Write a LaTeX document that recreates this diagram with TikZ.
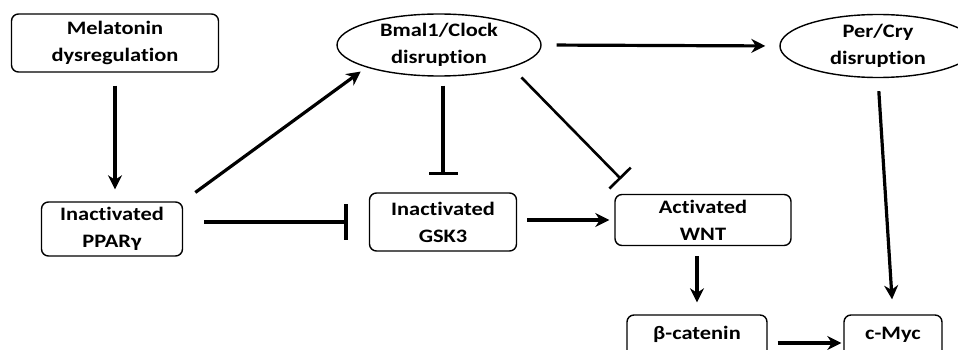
\documentclass[tikz,border=0pt]{standalone}
\usepackage{fontspec}
\setmainfont[FakeStretch=1.18, RawFeature=-liga]{Carlito}
\usetikzlibrary{shapes.geometric, arrows.meta}

\begin{document}
\begin{tikzpicture}%
                    [x=1pt, y=-1pt,
                    box/.style={draw, rounded corners=7pt, line width=1.4pt, align=center, inner sep=0pt,
                                font=\bfseries\fontsize{19}{27}\selectfont},
                    oval/.style={draw, ellipse, line width=1.4pt, align=center, inner sep=0pt,
                                font=\bfseries\fontsize{19}{27}\selectfont},
                    act/.style={line width=3.2pt, -{Stealth[length=14pt, width=14pt, inset=4.5pt]}},
                    inh/.style={line width=3.4pt, -{Bar[width=#1]}}]
                %% Frame of the picture
                \clip (0,0) rectangle (958,350);
                \useasboundingbox (0,0) rectangle (958,350);
                %%
                %% Drawing the boxes
                %%
                \node[box, minimum width=207pt, minimum height=58pt] (melatonin) at (115,43) {Melatonin\\dysregulation};
                \node[box, minimum width=141pt, minimum height=54pt] (ppar) at (112,229) {Inactivated\\PPARγ};
                \node[box, minimum width=147pt, minimum height=58pt] (gsk) at (443,222) {Inactivated\\GSK3};
                \node[box, minimum width=176pt, minimum height=51pt] (wnt) at (703,220) {Activated\\WNT};
                \node[box, minimum width=140pt, minimum height=56pt, text height=14pt, text depth=21pt] (catenin) at (697,343) {β-catenin};
                \node[box, minimum width=98pt, minimum height=56pt, text height=14pt, text depth=21pt] (myc) at (893,343) {c-Myc};
                \node[oval, minimum width=204pt, minimum height=62pt] (bmal) at (439,45) {Bmal1/Clock\\disruption};
                \node[oval, minimum width=196pt, minimum height=63pt] (percry) at (878,46) {Per/Cry\\disruption};
                \coordinate (wntbar) at (621,179);
                %%
                %% Activating arrows
                %%
                \draw[act, shorten <=13pt, shorten >=12pt] (melatonin.south) -- (melatonin.south |- ppar.north);
                \draw[act, shorten <=15pt, shorten >=7pt] (ppar.north east) -- (bmal.south west);
                \draw[act, shorten <=15pt, shorten >=14pt] (bmal.east) -- (percry.west);
                \draw[act, shorten <=10pt, shorten >=5pt] (gsk.east |- wnt.west) -- (wnt.west);
                \draw[act, shorten <=10pt, shorten >=12pt] (wnt.south -| catenin.north) -- (catenin.north);
                \draw[act, shorten <=10pt, shorten >=2pt] (catenin.east |- myc.west) -- (myc.west);
                \draw[act, shorten <=13pt, shorten >=15pt] (percry.south) -- (myc.north);
                %%
                %% Inhibiting lines
                %%
                \draw[inh=36pt, shorten <=21pt, shorten >=21pt] (ppar.east |- gsk.west) -- (gsk.west);
                \draw[inh=29pt, shorten <=9pt, shorten >=17pt] (bmal.south -| gsk.north) -- (gsk.north);
                \draw[inh=30pt, line width=2.6pt, shorten <=14pt] (bmal.south east) -- (wntbar);
\end{tikzpicture}
\end{document}
